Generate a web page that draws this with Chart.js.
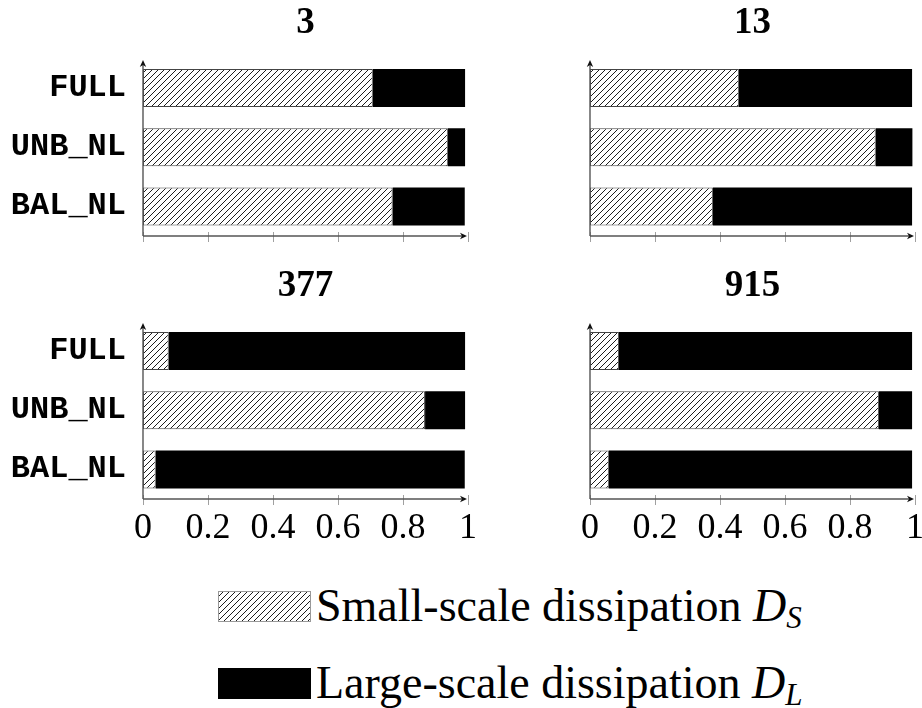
<!DOCTYPE html>
<html>
<head>
<meta charset="utf-8">
<script src="https://cdn.jsdelivr.net/npm/chart.js@4.4.1/dist/chart.umd.min.js"></script>
<style>
  html, body { margin: 0; padding: 0; background: #fff; overflow: hidden; width: 922px; height: 708px; }
  canvas { position: absolute; }
  .leg { position: absolute; font-family: 'Liberation Serif', serif; font-size: 46px; line-height: 1; color: #000; white-space: nowrap; }
  .leg i { font-style: italic; }
  .leg sub { font-size: 31px; font-style: italic; vertical-align: baseline; position: relative; top: 7px; }
  .swatch { position: absolute; box-sizing: border-box; }
</style>
</head>
<body>
<canvas id="panel3" width="490" height="250" style="left:0px;top:0px"></canvas>
<canvas id="panel13" width="490" height="250" style="left:447px;top:0px"></canvas>
<canvas id="panel377" width="490" height="300" style="left:0px;top:263px"></canvas>
<canvas id="panel915" width="490" height="300" style="left:447px;top:263px"></canvas>

<canvas id="swatchSmall" class="swatch" width="93" height="31" style="left:218px;top:591px"></canvas>
<div class="swatch" style="left:218px;top:668px;width:93px;height:31px;background:#000"></div>
<div class="leg" style="left:316px;top:583px">Small-scale dissipation <i>D</i><sub>S</sub></div>
<div class="leg" style="left:316px;top:660px">Large-scale dissipation <i>D</i><sub>L</sub></div>

<script>
// Cases shown on the vertical axis of every panel
const categories = ['FULL', 'UNB_NL', 'BAL_NL'];
// Panel headings
const panelTitles = ['3', '13', '377', '915'];
// Horizontal axis tick values
const xTicks = [0, 0.2, 0.4, 0.6, 0.8, 1];

// Share of small-scale dissipation D_S per case
const smallScale3   = [0.707, 0.938, 0.768];
const smallScale13  = [0.458, 0.879, 0.378];
const smallScale377 = [0.079, 0.868, 0.039];
const smallScale915 = [0.089, 0.889, 0.058];

// Share of large-scale dissipation D_L per case
const largeScale3   = [0.284, 0.053, 0.222];
const largeScale13  = [0.533, 0.113, 0.613];
const largeScale377 = [0.912, 0.123, 0.951];
const largeScale915 = [0.902, 0.102, 0.933];

const legendSmall = 'Small-scale dissipation';
const legendLarge = 'Large-scale dissipation';

// Diagonal "north east lines" fill
function hatchPattern(ctx) {
  const s = 6;
  const c = document.createElement('canvas');
  c.width = s; c.height = s;
  const g = c.getContext('2d');
  g.fillStyle = '#fff';
  g.fillRect(0, 0, s, s);
  g.strokeStyle = '#111';
  g.lineWidth = 0.95;
  g.beginPath();
  g.moveTo(-1, s + 1); g.lineTo(s + 1, -1);
  g.moveTo(-1, 1); g.lineTo(1, -1);
  g.moveTo(s - 1, s + 1); g.lineTo(s + 1, s - 1);
  g.stroke();
  return ctx.createPattern(c, 'repeat');
}

function arrowHead(ctx, x, y, dir) {
  ctx.save();
  ctx.translate(x, y);
  if (dir === 'up') ctx.rotate(-Math.PI / 2);
  ctx.beginPath();
  ctx.moveTo(0, 0);
  ctx.lineTo(-7, -3.2);
  ctx.lineTo(-5, 0);
  ctx.lineTo(-7, 3.2);
  ctx.closePath();
  ctx.fill();
  ctx.restore();
}

// Axis lines with arrows and crossing tick marks
const axesPlugin = {
  id: 'axesWithArrows',
  afterDatasetsDraw(chart) {
    const { ctx, chartArea: a, scales: { x } } = chart;
    const x0 = x.getPixelForValue(0);
    const x1 = x.getPixelForValue(1);
    const yb = a.bottom;
    ctx.save();
    ctx.strokeStyle = '#a0a0a0';
    ctx.lineWidth = 1;
    xTicks.forEach(v => {
      const px = Math.round(x.getPixelForValue(v)) + 0.5;
      ctx.beginPath();
      ctx.moveTo(px, yb - 4);
      ctx.lineTo(px, yb + 6);
      ctx.stroke();
    });
    ctx.strokeStyle = '#555';
    ctx.lineWidth = 1.4;
    ctx.beginPath();
    ctx.moveTo(x0, yb);
    ctx.lineTo(x0, a.top + 5);
    ctx.stroke();
    ctx.beginPath();
    ctx.moveTo(x0, yb);
    ctx.lineTo(x1 - 4, yb);
    ctx.stroke();
    ctx.fillStyle = '#111';
    arrowHead(ctx, x0, a.top + 1.5, 'up');
    arrowHead(ctx, x1 - 1, yb, 'right');
    ctx.restore();
  }
};

function makePanel(id, title, small, large, showYLabels, showXLabels) {
  const canvas = document.getElementById(id);
  const ctx = canvas.getContext('2d');
  return new Chart(ctx, {
    type: 'bar',
    data: {
      labels: categories,
      datasets: [
        {
          label: legendSmall,
          data: small,
          backgroundColor: hatchPattern(ctx),
          borderColor: '#444',
          borderWidth: 1,
          borderSkipped: false,
          categoryPercentage: 1,
          barPercentage: 0.642
        },
        {
          label: legendLarge,
          data: large,
          backgroundColor: '#000',
          borderWidth: 0,
          categoryPercentage: 1,
          barPercentage: 0.642
        }
      ]
    },
    options: {
      indexAxis: 'y',
      responsive: false,
      animation: false,
      events: [],
      layout: { padding: { left: 0, right: 22, top: 0, bottom: 0 } },
      scales: {
        x: {
          type: 'linear',
          stacked: true,
          min: 0,
          max: 1,
          grid: { display: false, drawTicks: false },
          border: { display: false },
          afterBuildTicks: s => { s.ticks = xTicks.map(v => ({ value: v })); },
          afterFit: s => { s.height = showXLabels ? 64 : 14; },
          ticks: {
            display: showXLabels,
            padding: 8,
            color: '#000',
            font: { family: "'Liberation Serif', serif", size: 36 },
            callback: v => String(v)
          }
        },
        y: {
          type: 'category',
          stacked: true,
          offset: true,
          grid: { display: false, drawTicks: false },
          border: { display: false },
          afterFit: s => { s.width = 143; s.paddingTop = 0; s.paddingBottom = 0; },
          ticks: {
            display: showYLabels,
            padding: 17,
            color: '#000',
            font: { family: "'Liberation Mono', monospace", size: 32, weight: 'bold', lineHeight: 0.5 }
          }
        }
      },
      plugins: {
        legend: { display: false },
        tooltip: { enabled: false },
        title: {
          display: true,
          text: title,
          fullSize: false,
          color: '#000',
          font: { family: "'Liberation Serif', serif", size: 37, weight: 'bold' },
          padding: { top: 1.3, bottom: 12.8 }
        }
      }
    },
    plugins: [axesPlugin]
  });
}

makePanel('panel3', panelTitles[0], smallScale3, largeScale3, true, false);
makePanel('panel13', panelTitles[1], smallScale13, largeScale13, false, false);
makePanel('panel377', panelTitles[2], smallScale377, largeScale377, true, true);
makePanel('panel915', panelTitles[3], smallScale915, largeScale915, false, true);

// Hatched legend swatch
(function () {
  const c = document.getElementById('swatchSmall');
  const g = c.getContext('2d');
  g.fillStyle = hatchPattern(g);
  g.fillRect(0, 0, c.width, c.height);
  g.strokeStyle = '#999';
  g.lineWidth = 1;
  g.strokeRect(0.5, 0.5, c.width - 1, c.height - 1);
})();
</script>
</body>
</html>
